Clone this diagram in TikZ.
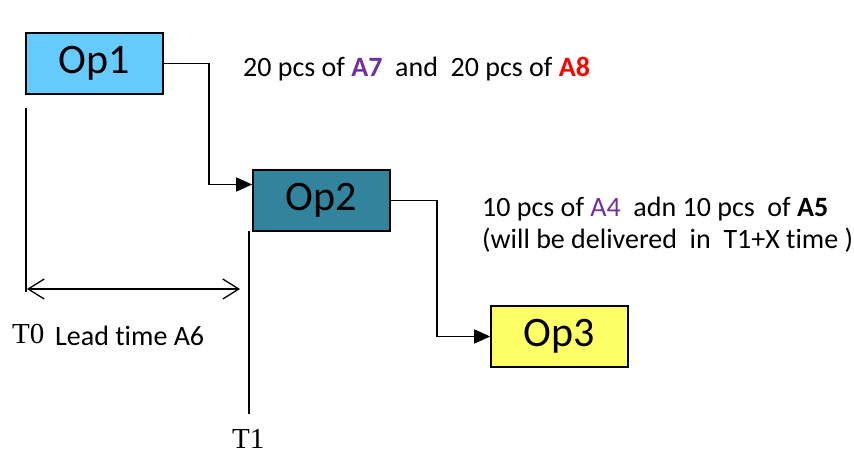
\documentclass[tikz,border=0pt]{standalone}
\usepackage{fontspec}
\setmainfont{Carlito}[Ligatures=NoCommon]
\newfontfamily\timesfont{Liberation Serif}
\usetikzlibrary{arrows.meta}

\definecolor{opblue}{HTML}{66CCFF}
\definecolor{opteal}{HTML}{31849B}
\definecolor{opyellow}{HTML}{FFFF66}
\definecolor{partpurple}{HTML}{7030A0}
\definecolor{partred}{HTML}{FF0000}

\begin{document}
\begin{tikzpicture}[x=1pt, y=-1pt,
        opbox/.style={draw, line width=1.6pt, minimum width=137pt, minimum height=61pt,
            inner sep=0pt, font=\fontsize{42}{48}\selectfont},
        flow/.style={line width=1.6pt, -{Triangle[length=16pt, width=14pt]}},
        note/.style={inner sep=0pt, anchor=base west, font=\fontsize{28}{32}\selectfont},
        timelabel/.style={inner sep=0pt, anchor=base west, text depth=0pt, font=\fontsize{29}{32}\selectfont\timesfont}]
    \useasboundingbox (0, 0) rectangle (854, 452);

    % operations
    \node[opbox, fill=opblue] (op1) at (94.5, 63.5) {Op1};
    \node[opbox, fill=opteal] (op2) at (321.5, 200.5) {Op2};
    \node[opbox, fill=opyellow] (op3) at (559.5, 336.5) {Op3};

    \draw[flow] (op1.east) -- ++(45, 0) |- ([yshift=16pt]op2.west);
    \draw[flow] (op2.east) -- ++(46, 0) |- (op3.west);

    % parts
    \node[note] (parts1) at (243, 77) {20 pcs of \textbf{\textcolor{partpurple}{A7}}\ \ and\ \ 20 pcs of \textbf{\textcolor{partred}{A8}}};
    \node[note] (parts2) at (482, 216) {10 pcs of \textcolor{partpurple}{A4}\ \ adn 10 pcs\ \ of \textbf{A5}};
    \node[note] (parts3) at (482, 248) {(will be delivered\ \ in\ \ T1+X time )};

    % time line
    \coordinate (t0top) at (26, 108);
    \coordinate (t0bot) at (26, 292);
    \coordinate (t1top) at (249, 231);
    \coordinate (t1bot) at (249, 414);
    \coordinate (leadl) at (27, 289);
    \coordinate (leadr) at (240, 289);

    \draw[line width=1.6pt] (t0top) -- (t0bot);
    \draw[line width=1.6pt] (t1top) -- (t1bot);
    \draw[line width=1.3pt, {Straight Barb[length=16pt, width=20pt]}-{Straight Barb[length=16pt, width=20pt]}] (leadl) -- (leadr);

    \node[timelabel] (t0) at (12, 343) {T0};
    \node[note] (lead) at (55, 345) {Lead time A6};
    \node[timelabel] (t1) at (232, 448) {T1};
\end{tikzpicture}
\end{document}
